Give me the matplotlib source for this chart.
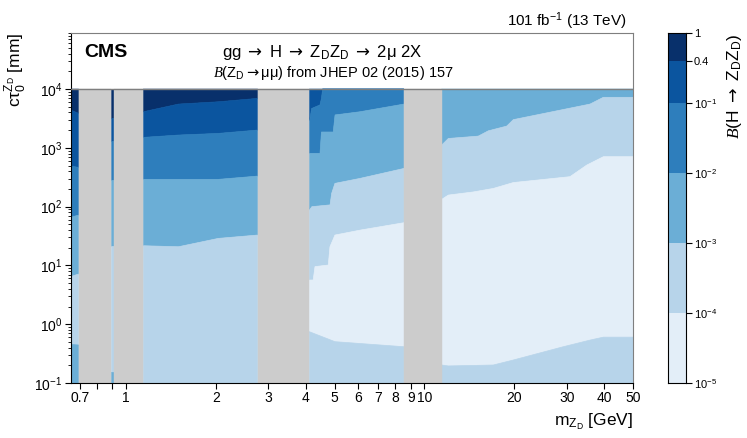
import numpy as np
import matplotlib
matplotlib.use('Agg')
import matplotlib.pyplot as plt
from matplotlib.ticker import NullLocator, LogLocator, NullFormatter

plt.rcParams['font.family'] = ['Liberation Sans', 'DejaVu Sans']
plt.rcParams['mathtext.fontset'] = 'custom'
plt.rcParams['mathtext.rm'] = 'Liberation Sans'
plt.rcParams['mathtext.it'] = 'Liberation Sans:italic'
plt.rcParams['mathtext.bf'] = 'Liberation Sans:bold'
plt.rcParams['mathtext.sf'] = 'DejaVu Sans'
plt.rcParams['mathtext.cal'] = 'Liberation Serif:italic'

# ---------------- data ----------------
# colour levels of B(H -> ZD ZD)
level_bounds = [1e-5, 1e-4, 1e-3, 1e-2, 1e-1, 0.4, 1.0]
level_colors = ['#e3eef8', '#b7d4ea', '#6baed6', '#2e7ebc', '#0b559f', '#08306b']
cbar_ticks = [1e-5, 1e-4, 1e-3, 1e-2, 1e-1, 0.4, 1.0]
cbar_labels = ['$10^{-5}$', '$10^{-4}$', '$10^{-3}$', '$10^{-2}$', '$10^{-1}$', '0.4', '1']

# masked (resonance) mass windows [GeV]
veto_lo = [0.694, 0.914, 2.763, 8.54]
veto_hi = [0.891, 1.143, 4.115, 11.43]

x_ticks = [0.7, 0.8, 0.9, 1, 2, 3, 4, 5, 6, 7, 8, 9, 10, 20, 30, 40, 50]
x_labels = ['0.7', '', '', '1', '2', '3', '4', '5', '6', '7', '8', '9', '10', '20', '30', '40', '50']
y_ticks = [0.1, 1, 10, 100, 1000, 10000]
y_labels = ['$10^{-1}$', '$10^{0}$', '$10^{1}$', '$10^{2}$', '$10^{3}$', '$10^{4}$']

# contour boundaries, log10(c tau [mm]) vs mass, from top to bottom:
# 0.4, 0.1, 1e-2, 1e-3 (upper), 1e-4 (upper), 1e-4 (lower), 1e-3 (lower)
# segment A: 0.65 - 0.694 GeV
A_m = [0.653, 0.694]
A_b04 = [3.643, 3.587]
A_b01 = [2.69, 2.668]
A_b001 = [1.818, 1.857]
A_b1e3 = [0.81, 0.854]
A_low = [-0.343, -0.354]

# segment B: 0.891 - 0.914 GeV
B_m = [0.891, 0.914]
B_b04 = [3.50, 3.50]
B_b01 = [3.116, 3.116]
B_b001 = [2.45, 2.45]
B_b1e3 = [1.335, 1.335]
B_low = [-0.81, -0.81]

# segment C: 1.143 - 2.763 GeV
C_m = [1.143, 1.5, 2.04, 2.763]
C_b04 = [3.614, 3.745, 3.784, 3.842]
C_b01 = [3.178, 3.218, 3.246, 3.303]
C_b001 = [2.464, 2.464, 2.464, 2.52]
C_b1e3 = [1.335, 1.318, 1.46, 1.517]

# segment D: 4.115 - 8.54 GeV
D_b01_m = [4.115, 4.13, 4.19, 4.467, 4.52, 4.56, 8.54]
D_b01 = [3.47, 3.47, 3.67, 3.73, 3.84, 4.0, 4.0]
D_b001_m = [4.115, 4.47, 4.52, 4.95, 5.02, 6.08, 8.54]
D_b001 = [2.906, 2.906, 3.27, 3.27, 3.56, 3.614, 3.745]
D_b1e3_m = [4.115, 4.2, 4.83, 4.89, 5.016, 6.08, 8.54]
D_b1e3 = [1.942, 2.0, 2.03, 2.226, 2.396, 2.48, 2.65]
D_b1e4_m = [4.115, 4.24, 4.30, 4.764, 4.826, 5.016, 6.08, 8.54]
D_b1e4 = [0.752, 0.752, 0.98, 1.007, 1.318, 1.517, 1.60, 1.727]
D_b1e4lo_m = [4.115, 5.016, 8.54]
D_b1e4lo = [-0.127, -0.297, -0.383]

# segment E: 11.43 - 50 GeV
E_b1e3_m = [11.43, 12.03, 15.16, 16.38, 18.87, 19.86, 35.9, 39.78, 50]
E_b1e3 = [3.048, 3.16, 3.2, 3.29, 3.37, 3.48, 3.745, 3.86, 3.86]
E_b1e4_m = [11.43, 12.03, 14.58, 17.02, 19.86, 30.75, 34.99, 39.78, 50]
E_b1e4 = [2.124, 2.197, 2.25, 2.31, 2.41, 2.51, 2.707, 2.85, 2.85]
E_b1e4lo_m = [11.43, 12.03, 17.02, 19.86, 29.2, 35.9, 39.78, 50]
E_b1e4lo = [-0.694, -0.71, -0.694, -0.609, -0.383, -0.27, -0.22, -0.22]

TOP, BOTTOM = 4.0, -1.0
ARROW = '$\\mathsf{\\rightarrow}$'

# ---------------- figure ----------------
W, H = 747, 438
fig = plt.figure(figsize=(W / 100, H / 100), dpi=100)
ax_l, ax_r, ax_t, ax_b = 70.7, 633, 33, 383
ax = fig.add_axes([ax_l / W, 1 - ax_b / H, (ax_r - ax_l) / W, (ax_b - ax_t) / H])
cax = fig.add_axes([667.7 / W, 1 - ax_b / H, 18 / W, (ax_b - ax_t) / H])

ax.set_xscale('log')
ax.set_yscale('log')
ax.set_xlim(0.653, 50)
ax.set_ylim(0.1, 9.0e4)


def const(m, v):
    return (m, [v] * len(m))


def draw_segment(bounds):
    # bounds: list of (mass, log10ctau) from top to bottom (9 entries incl. top & bottom)
    cidx = [5, 4, 3, 2, 1, 0, 1, 2]
    for i in range(len(bounds) - 1):
        mu, cu = bounds[i]
        ml, cl = bounds[i + 1]
        if list(mu) == list(ml) and list(cu) == list(cl):
            continue
        xs = list(mu) + list(ml)[::-1]
        ys = [10 ** v for v in cu] + [10 ** v for v in cl][::-1]
        col = level_colors[cidx[i]]
        ax.fill(xs, ys, facecolor=col, edgecolor=col, lw=0.5, zorder=1)


# segment A
draw_segment([const(A_m, TOP), (A_m, A_b04), (A_m, A_b01), (A_m, A_b001), (A_m, A_b1e3),
              (A_m, A_low), (A_m, A_low), (A_m, A_low), const(A_m, BOTTOM)])
# segment B
draw_segment([const(B_m, TOP), (B_m, B_b04), (B_m, B_b01), (B_m, B_b001), (B_m, B_b1e3),
              (B_m, B_low), (B_m, B_low), (B_m, B_low), const(B_m, BOTTOM)])
# segment C
draw_segment([const(C_m, TOP), (C_m, C_b04), (C_m, C_b01), (C_m, C_b001), (C_m, C_b1e3),
              const(C_m, BOTTOM), const(C_m, BOTTOM), const(C_m, BOTTOM), const(C_m, BOTTOM)])
# segment D
Dm = [4.115, 8.54]
draw_segment([const(Dm, TOP), const(Dm, TOP), (D_b01_m, D_b01), (D_b001_m, D_b001),
              (D_b1e3_m, D_b1e3), (D_b1e4_m, D_b1e4), (D_b1e4lo_m, D_b1e4lo),
              const(Dm, BOTTOM), const(Dm, BOTTOM)])
# segment E
Em = [11.43, 50]
draw_segment([const(Em, TOP), const(Em, TOP), const(Em, TOP), const(Em, TOP),
              (E_b1e3_m, E_b1e3), (E_b1e4_m, E_b1e4), (E_b1e4lo_m, E_b1e4lo),
              const(Em, BOTTOM), const(Em, BOTTOM)])

# vetoed mass windows
for lo, hi in zip(veto_lo, veto_hi):
    ax.fill([lo, hi, hi, lo], [0.1, 0.1, 1e4, 1e4], facecolor='#cccccc',
            edgecolor='#cccccc', lw=0.3, zorder=2)

ax.axhline(1e4, color='#7f7f7f', lw=1.0, zorder=3)

# axes styling
for s in ['top', 'right']:
    ax.spines[s].set_color('#7f7f7f')
ax.set_xticks(x_ticks)
ax.set_xticklabels(x_labels)
ax.xaxis.set_minor_locator(NullLocator())
ax.set_yticks(y_ticks)
ax.set_yticklabels(y_labels)
ax.yaxis.set_minor_locator(LogLocator(base=10, subs=np.arange(2, 10)))
ax.yaxis.set_minor_formatter(NullFormatter())
ax.tick_params(which='major', direction='out', length=4, width=0.8, labelsize=10, pad=2)
ax.tick_params(which='minor', direction='out', length=2.5, width=0.6)

ax.set_xlabel('m$_{\\mathrm{Z_D}}$ [GeV]', fontsize=12.5, loc='right')
ax.xaxis.set_label_coords(1.0, -0.08)
ax.set_ylabel('cτ$_0^{\\mathrm{Z_D}}$ [mm]', fontsize=12.5, loc='top')
ax.yaxis.set_label_coords(-0.074, 1.0)

# texts
fig.text(84 / W, 1 - 57 / H, 'CMS', fontsize=14, fontweight='bold', va='baseline')
fig.text(321.7 / W, 1 - 57 / H,
         'gg ' + ARROW + ' H ' + ARROW + ' Z$_\\mathrm{D}$Z$_\\mathrm{D}$ ' + ARROW + ' 2μ 2X',
         fontsize=12, ha='center', va='baseline')
fig.text(213 / W, 1 - 77 / H,
         '$\\mathcal{B}$(Z$_\\mathrm{D}$' + ARROW + 'μμ) from JHEP 02 (2015) 157',
         fontsize=10.5, va='baseline')
fig.text(626.7 / W, 1 - 26 / H, '101 fb$^{-1}$ (13 TeV)', fontsize=11, ha='right', va='baseline')

# colour bar
cax.set_yscale('log')
cax.set_ylim(1e-5, 1.0)
for i in range(len(level_colors)):
    cax.axhspan(level_bounds[i], level_bounds[i + 1], color=level_colors[i], lw=0)
cax.set_xticks([])
cax.yaxis.tick_right()
cax.set_yticks(cbar_ticks)
cax.set_yticklabels(cbar_labels)
cax.yaxis.set_minor_locator(NullLocator())
cax.tick_params(axis='y', direction='out', length=4, width=0.8, labelsize=8, pad=2)
cax.yaxis.set_label_position('right')
cax.set_ylabel('$\\mathcal{B}$(H ' + ARROW + ' Z$_\\mathrm{D}$Z$_\\mathrm{D}$)', fontsize=12.5, loc='top')
cax.yaxis.set_label_coords(3.2, 1.0)

fig.savefig('out.png', dpi=100)
